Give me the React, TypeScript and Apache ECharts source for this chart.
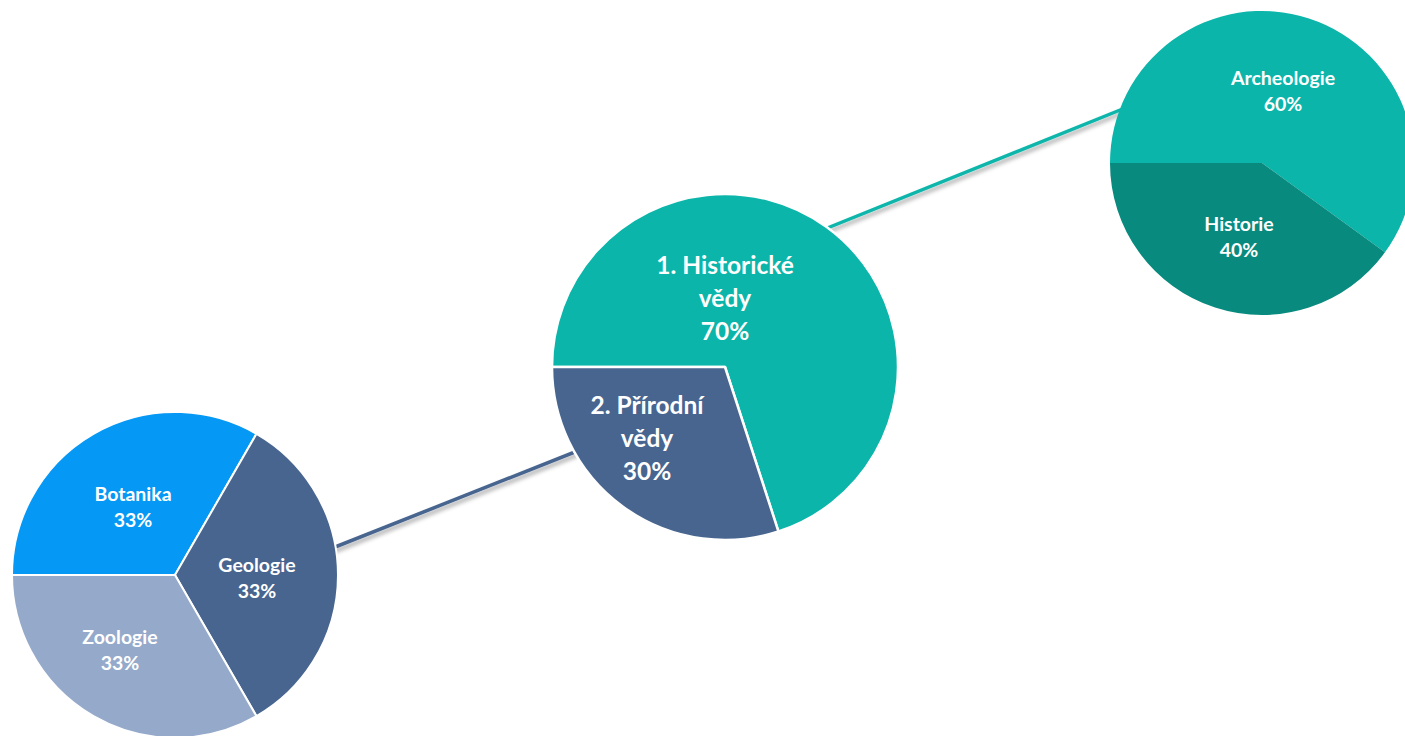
import React, { useEffect, useRef } from "react";
import * as echarts from "echarts";

// ---- Data ----
const mainCategories = ["1. Historické vědy", "2. Přírodní vědy"];
const mainValues = [70, 30];

const naturalCategories = ["Botanika", "Geologie", "Zoologie"];
const naturalValues = [33, 33, 33];

const historyCategories = ["Archeologie", "Historie"];
const historyValues = [60, 40];

// ---- Styles / layout ----
const TEAL = "#0BB5AA";
const DARK_TEAL = "#088A7E";
const SLATE = "#47658F";
const BLUE = "#0598F4";
const LIGHT_SLATE = "#95A9CA";

const mainColors = [TEAL, SLATE];
const naturalColors = [BLUE, SLATE, LIGHT_SLATE];
const historyColors = [TEAL, DARK_TEAL];

const mainCenter = [725, 367];
const mainRadius = 173;
const naturalCenter = [175, 575];
const naturalRadius = 163;
const historyCenter = [1262, 163];
const historyRadius = 152;

// label offsets from pie centre (pixels)
const mainLabelOffsets = [
  [0, -70],
  [-78, 70],
];
const naturalLabelOffsets = [
  [-42, -69],
  [82, 2],
  [-55, 74],
];
const historyLabelOffsets = [
  [21, -73],
  [-23, 73],
];

const FONT = "Lato, 'Open Sans', sans-serif";

function wrapName(name: string) {
  return name.replace(/ (\S+)$/, "\n$1");
}

function makePie(
  id: string,
  cats: string[],
  vals: number[],
  colors: string[],
  center: number[],
  radius: number,
  offsets: number[][],
  fontSize: number,
  lineHeight: number,
  borderWidth: number
) {
  return {
    id,
    type: "pie",
    z: 5,
    center,
    radius,
    startAngle: 180,
    clockwise: true,
    avoidLabelOverlap: false,
    silent: true,
    data: cats.map((c, i) => ({
      name: c,
      value: vals[i],
      itemStyle: { color: colors[i] },
    })),
    itemStyle: {
      borderColor: "#ffffff",
      borderWidth,
    },
    label: {
      show: true,
      position: "inside",
      formatter: (p: any) => wrapName(p.name) + "\n" + p.value + "%",
      color: "#ffffff",
      fontFamily: FONT,
      fontWeight: "bold",
      fontSize,
      lineHeight,
      align: "center",
    },
    labelLine: { show: false },
    labelLayout: (p: any) => ({
      x: center[0] + offsets[p.dataIndex][0],
      y: center[1] + offsets[p.dataIndex][1],
      align: "center",
      verticalAlign: "middle",
    }),
  };
}

function lineThrough(a: number[], b: number[], color: string) {
  return {
    type: "line",
    z: 1,
    shape: { x1: a[0], y1: a[1], x2: b[0], y2: b[1] },
    style: {
      stroke: color,
      lineWidth: 3.5,
      shadowColor: "rgba(0,0,0,0.35)",
      shadowBlur: 4,
      shadowOffsetX: 2,
      shadowOffsetY: 3,
    },
    silent: true,
  };
}

export default function App() {
  const ref = useRef<HTMLDivElement>(null);
  useEffect(() => {
    if (!ref.current) return;
    const chart = echarts.init(ref.current, null, { renderer: "svg" });
    chart.setOption({
      animation: false,
      backgroundColor: "#ffffff",
      graphic: [
        lineThrough([320, 553], [600, 442], SLATE),
        lineThrough([810, 235], [1140, 102], TEAL),
      ],
      series: [
        makePie(
          "natural",
          naturalCategories,
          naturalValues,
          naturalColors,
          naturalCenter,
          naturalRadius,
          naturalLabelOffsets,
          19.5,
          26,
          2
        ),
        makePie(
          "main",
          mainCategories,
          mainValues,
          mainColors,
          mainCenter,
          mainRadius,
          mainLabelOffsets,
          24.5,
          33,
          2.5
        ),
        makePie(
          "history",
          historyCategories,
          historyValues,
          historyColors,
          historyCenter,
          historyRadius,
          historyLabelOffsets,
          19.5,
          26,
          0
        ),
      ],
    });
    return () => chart.dispose();
  }, []);
  return (
    <div
      ref={ref}
      style={{
        position: "absolute",
        left: 0,
        top: 0,
        width: "1405px",
        height: "736px",
      }}
    />
  );
}
